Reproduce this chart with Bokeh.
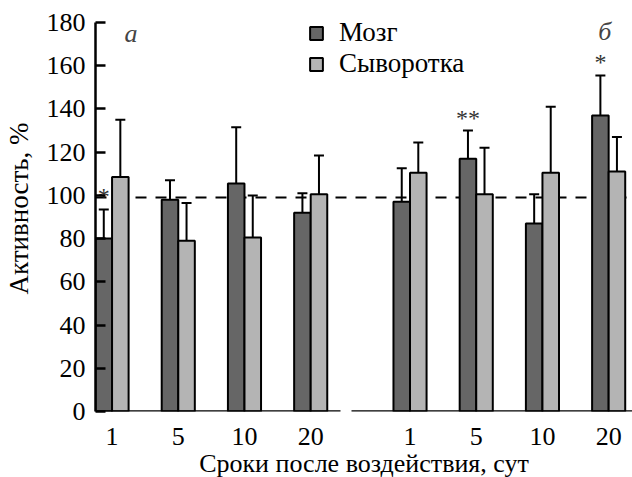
from bokeh.plotting import figure
from bokeh.models import (ColumnDataSource, FixedTicker, LinearAxis, Whisker, TeeHead,
                          Span, Legend, LegendItem, Label)
from bokeh.core.properties import value
from bokeh.embed import file_html
from bokeh.resources import INLINE

# ---------------- data ----------------
days = ["1", "5", "10", "20"]
series_names = ["Мозг", "Сыворотка"]
panel_labels = ["а", "б"]
x_title = "Сроки после воздействия, сут"
y_title = "Активность, %"

brain_a = [80, 98, 105.5, 92]
brain_a_err = [13.5, 9, 26, 9]
serum_a = [108.5, 79, 80.5, 100.5]
serum_a_err = [26.5, 17.5, 19.5, 18]

brain_b = [97, 117, 87, 137]
brain_b_err = [15.5, 13, 13.5, 18.5]
serum_b = [110.5, 100.5, 110.5, 111]
serum_b_err = [14, 21.5, 30.5, 16]

sig_brain_a = ["*", "", "", ""]
sig_brain_b = ["", "**", "", "*"]

control_level = 99
y_ticks = [0, 20, 40, 60, 80, 100, 120, 140, 160, 180]

# ---------------- layout ----------------
FONT = "'Liberation Serif'"
NUM_SIZE = "26px"
TXT_SIZE = "26px"
LEG_SIZE = "27px"
GROUP_STEP = 2
RIGHT_START = 9
BAR_W = 0.5
X_START, X_END = -0.5, 15.72
Y_AXIS_MAX = 180
Y_END = 187.86
LEFT_AXIS_END = 6.9
RIGHT_AXIS_START = 7.22
DARK = "#666666"
LIGHT = "#b4b4b4"

pos_a = [i * GROUP_STEP for i in range(len(days))]
pos_b = [RIGHT_START + i * GROUP_STEP for i in range(len(days))]
pos = pos_a + pos_b

brain = brain_a + brain_b
brain_err = brain_a_err + brain_b_err
serum = serum_a + serum_b
serum_err = serum_a_err + serum_b_err

src_brain = ColumnDataSource(dict(
    x=[x - BAR_W / 2 for x in pos], top=brain,
    upper=[v + e for v, e in zip(brain, brain_err)],
    mark=sig_brain_a + sig_brain_b,
    mark_y=[v + e + 6 for v, e in zip(brain, brain_err)],
))
src_serum = ColumnDataSource(dict(
    x=[x + BAR_W / 2 for x in pos], top=serum,
    upper=[v + e for v, e in zip(serum, serum_err)],
))

p = figure(frame_width=537, frame_height=406, x_range=(X_START, X_END), y_range=(0, Y_END),
           output_backend="svg", toolbar_location=None, x_axis_type=None,
           min_border_left=95, min_border_right=0, min_border_top=5, min_border_bottom=66)
p.outline_line_color = None
p.grid.visible = False
p.background_fill_color = "white"

# control level (dashed)
p.add_layout(Span(location=control_level, dimension="width", line_color="black",
                  line_width=2, line_dash="11 9", level="underlay"))

r_brain = p.vbar(x="x", top="top", width=BAR_W, source=src_brain, fill_color=DARK,
                 line_color="black", line_width=2)
r_serum = p.vbar(x="x", top="top", width=BAR_W, source=src_serum, fill_color=LIGHT,
                 line_color="black", line_width=2)

for src in (src_brain, src_serum):
    p.add_layout(Whisker(source=src, base="x", upper="upper", lower="top", dimension="height",
                         line_color="black", line_width=2,
                         upper_head=TeeHead(size=10, line_width=2, line_color="black"),
                         lower_head=None))

p.text(x="x", y="mark_y", text="mark", source=src_brain, text_font=value(FONT),
       text_font_size="24px", text_align="center", text_baseline="middle", text_color="#333333")

# y axis
ya = p.yaxis[0]
ya.ticker = FixedTicker(ticks=y_ticks)
ya.bounds = (0, Y_AXIS_MAX)
ya.axis_line_width = 2.5
ya.major_tick_line_width = 2.5
ya.major_tick_in = 10
ya.major_tick_out = 0
ya.minor_tick_line_color = None
ya.major_label_text_font = FONT
ya.major_label_text_font_size = NUM_SIZE
ya.major_label_text_color = "black"
ya.major_label_standoff = 10
ya.axis_label = y_title
ya.axis_label_text_font = FONT
ya.axis_label_text_font_size = LEG_SIZE
ya.axis_label_text_font_style = "normal"
ya.axis_label_text_color = "black"
ya.axis_label_standoff = 10

# x axis lines (two panels, with gap)
for b in ((X_START, LEFT_AXIS_END), (RIGHT_AXIS_START, X_END)):
    ax = LinearAxis(bounds=b, fixed_location=0, ticker=FixedTicker(ticks=[]),
                    axis_line_width=2.5, major_tick_line_color=None,
                    minor_tick_line_color=None, major_label_text_font_size="0px")
    p.add_layout(ax, "below")

# x tick labels
xl = LinearAxis(ticker=FixedTicker(ticks=pos),
                major_label_overrides={x: d for x, d in zip(pos, days + days)},
                axis_line_color=None, major_tick_line_color=None, minor_tick_line_color=None,
                major_label_text_font=FONT, major_label_text_font_size=NUM_SIZE,
                major_label_text_color="black", major_label_standoff=10)
p.add_layout(xl, "below")

# x axis title (label-only axis)
xt = LinearAxis(ticker=FixedTicker(ticks=[]),
                axis_line_color=None, major_tick_line_color=None, minor_tick_line_color=None,
                major_label_text_font_size="0px", axis_label=x_title,
                axis_label_text_font=FONT, axis_label_text_font_size=TXT_SIZE,
                axis_label_text_font_style="normal", axis_label_text_color="black",
                axis_label_standoff=1)
p.add_layout(xt, "below")

# panel letters
p.add_layout(Label(x=0.57, y=175, text=panel_labels[0], text_font=FONT, text_font_size="26px",
                   text_font_style="italic", text_align="center", text_baseline="middle"))
p.add_layout(Label(x=14.88, y=176, text=panel_labels[1], text_font=FONT, text_font_size="26px",
                   text_font_style="italic", text_align="center", text_baseline="middle"))

legend = Legend(items=[LegendItem(label=series_names[0], renderers=[r_brain]),
                       LegendItem(label=series_names[1], renderers=[r_serum])],
                location=(213, 332), glyph_width=16, glyph_height=16, label_standoff=15,
                spacing=-2, padding=0, margin=0, border_line_alpha=0, background_fill_alpha=0,
                label_text_font=FONT, label_text_font_size=LEG_SIZE, label_text_color="black")
p.add_layout(legend)

open("out.html", "w").write(file_html(p, INLINE))
